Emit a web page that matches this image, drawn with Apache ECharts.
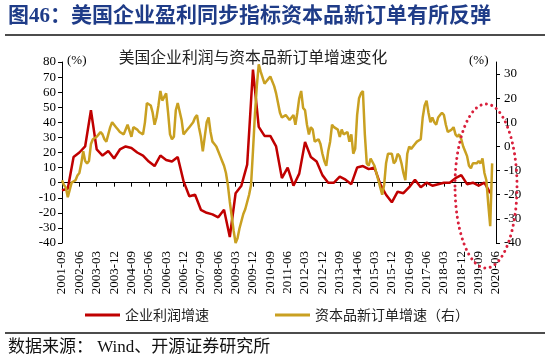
<!DOCTYPE html>
<html><head><meta charset="utf-8">
<script src="https://cdn.jsdelivr.net/npm/echarts@6/dist/echarts.min.js"></script>
<style>html,body{margin:0;padding:0;background:#fff}#c{width:550px;height:364px}</style>
</head><body><div id="c"></div>
<script>
// Monthly category axis: 2001-09 .. 2020-06
const firstMonth = [2001, 9];
const lastMonth = [2020, 6];
const months = [];
for (let y = firstMonth[0], m = firstMonth[1]; y < lastMonth[0] || (y === lastMonth[0] && m <= lastMonth[1]); ) {
  months.push(y + '-' + (m < 10 ? '0' + m : '' + m));
  m++; if (m > 12) { m = 1; y++; }
}

// US corporate profit growth, quarterly (2001-09 .. 2020-03), %, left axis
const profitQuarterly = [
  -5, -4, 17, 20, 24, 48, 22, 18, 21, 16,
  22, 24, 23, 20, 18, 14, 11, 18, 15, 14,
  17, 1, -9, -8, -18, -20, -21, -23, -18, -36,
  -7, -2, 12, 75, 37, 31, 31, 24, 3, 10,
  -2, 6, 27, 17, 14, 5, 0, 0, 4, 2,
  -1, 10, 11, 9, 10, -1, -8, -13, -6, -7,
  -3, 2, -3, 0, -2, -1, 0, 0, 3, 5,
  -1, 0, -2, 0, -7
];

// Capital goods new orders growth, monthly (2001-09 .. 2020-04), %, right axis
const ordersMonthly = [
  -14, -16, -17, -21, -18, -15, -15, -14, -12, -11,
  -7, -2, -6, -7, -6, 1, 3, 3, 4, 5,
  6, 5, 3, 2, 5, 8, 10, 10, 8, 7,
  6, 6, 5, 7, 9, 9, 4, 8, 8, 7,
  6, 6, 5, 10, 18, 18, 17, 14, 9, 12,
  17, 23, 19, 19, 22, 14, 5, 3, 4, 15,
  18, 18, 11, 5, 6, 7, 8, 9, 10, 12,
  13, 8, 4, -2, 4, 10, 12, 6, 2, 1,
  0, -2, -4, -6, -8, -11, -16, -23, -29, -35,
  -40, -38, -34, -31, -28, -26, -23, -20, -16, -2,
  13, 25, 34, 31, 31, 26, 27, 28, 29, 29,
  25, 22, 18, 14, 12, 12, 13, 13, 11, 12,
  13, 9, 14, 20, 23, 16, 15, 9, 5, 8,
  7, 2, 2, 3, 1, -3, -6, -8, -2, 2,
  9, 8, 8, 7, 4, 7, 5, 5, 6, 2,
  5, -3, -1, 13, 20, 22, 23, 5, -7, -8,
  -5, -5, -8, -11, -14, -17, -20, -16, -7, -3,
  -3, -3, -7, -6, -3, -4, -7, -11, -14, -3,
  0, -1, -1, 1, 2, 2, 3, 12, 17, 19,
  14, 10, 12, 10, 9, 12, 13, 14, 13, 9,
  6, 6, 7, 8, 5, 4, 5, 3, 0, -2,
  -4, -8, -9, -7, -7, -7, -6, -7, -5, -11,
  -14, -24, -33, -7
];

const leftTicks = [-40, -30, -20, -10, 0, 10, 20, 30, 40, 50, 60, 70, 80];
const rightTicks = [-40, -30, -20, -10, 0, 10, 20, 30];

const seriesNames = ['企业利润增速', '资本品新订单增速（右）'];
const colors = ['#C00000', '#C9A021'];

const profitMonthly = months.map((_, i) => (i % 3 === 0 && i / 3 < profitQuarterly.length) ? profitQuarterly[i / 3] : null);

const serif = "'Liberation Serif', 'Noto Sans CJK SC', serif";
const cjk = "'Noto Sans CJK SC', sans-serif";

const chart = echarts.init(document.getElementById('c'), null, { renderer: 'canvas' });
chart.setOption({
  animation: false,
  backgroundColor: '#fff',
  grid: { left: 62, top: 62, width: 434, height: 181, containLabel: false },
  legend: {
    left: 80, top: 303, itemWidth: 35, itemHeight: 3, itemGap: 66, icon: 'rect',
    textStyle: { fontFamily: cjk, fontSize: 14, color: '#222' },
    data: seriesNames
  },
  xAxis: [
    {
      type: 'category', data: months, boundaryGap: false, position: 'bottom',
      axisLine: { show: false, onZero: false }, axisTick: { show: false },
      axisLabel: { interval: 8, rotate: 90, margin: 8, fontFamily: serif, fontSize: 13, color: '#000' },
      splitLine: { show: false }
    },
    {
      type: 'category', data: months, boundaryGap: false, position: 'top',
      axisLine: { show: true, onZero: true, lineStyle: { color: '#000', width: 1 } },
      axisTick: { show: true, inside: true, interval: 8, length: 4, lineStyle: { color: '#000' } },
      axisLabel: { show: false }, splitLine: { show: false }
    }
  ],
  yAxis: [
    {
      type: 'value', position: 'left', min: -40, max: 80, interval: 10,
      axisLine: { show: true, lineStyle: { color: '#000' } },
      axisTick: { show: true, length: 4, lineStyle: { color: '#000' } },
      axisLabel: { fontFamily: serif, fontSize: 13, color: '#000', margin: 6 },
      splitLine: { show: false }
    },
    {
      type: 'value', position: 'right', min: -40, max: 35, interval: 10,
      axisLine: { show: true, lineStyle: { color: '#000' } },
      axisTick: { show: true, length: 4, customValues: rightTicks, lineStyle: { color: '#000' } },
      axisLabel: { fontFamily: serif, fontSize: 13, color: '#000', margin: 8, customValues: rightTicks },
      splitLine: { show: false }
    }
  ],
  series: [
    {
      name: seriesNames[0], type: 'line', xAxisIndex: 0, yAxisIndex: 0,
      data: profitMonthly, connectNulls: true, showSymbol: false, symbol: 'none',
      lineStyle: { color: colors[0], width: 2.5 }, itemStyle: { color: colors[0] }
    },
    {
      name: seriesNames[1], type: 'line', xAxisIndex: 0, yAxisIndex: 1,
      data: ordersMonthly, showSymbol: false, symbol: 'none',
      lineStyle: { color: colors[1], width: 2.5 }, itemStyle: { color: colors[1] }
    }
  ],
  graphic: [
    { type: 'text', left: 8, top: 6, style: { text: '图46：美国企业盈利同步指标资本品新订单有所反弹', font: "bold 21px 'Liberation Serif', 'Noto Sans CJK SC', serif", fill: '#1F3C88' } },
    { type: 'line', shape: { x1: 5, y1: 35, x2: 545, y2: 35 }, style: { stroke: '#111', lineWidth: 1.5 } },
    { type: 'text', x: 253, y: 57, style: { text: '美国企业利润与资本品新订单增速变化', font: "15.8px 'Noto Sans CJK SC', sans-serif", fill: '#222', align: 'center', verticalAlign: 'middle' } },
    { type: 'text', x: 67, y: 61, style: { text: '(%)', font: "13px 'Liberation Serif', serif", fill: '#000', verticalAlign: 'middle' } },
    { type: 'text', x: 469, y: 61, style: { text: '(%)', font: "13px 'Liberation Serif', serif", fill: '#000', verticalAlign: 'middle' } },
    { type: 'ellipse', shape: { cx: 486, cy: 186, rx: 31, ry: 82 }, style: { fill: 'none', stroke: '#D9203C', lineWidth: 3, lineDash: [0.01, 5.5], lineCap: 'round' }, z: 100 },
    { type: 'line', shape: { x1: 5, y1: 333, x2: 545, y2: 333 }, style: { stroke: '#111', lineWidth: 1.5 } },
    { type: 'text', left: 8, top: 339, style: { text: '数据来源： Wind、开源证券研究所', font: "17px 'Liberation Serif', 'Noto Sans CJK SC', serif", fill: '#111' } }
  ]
});
</script>
</body></html>
